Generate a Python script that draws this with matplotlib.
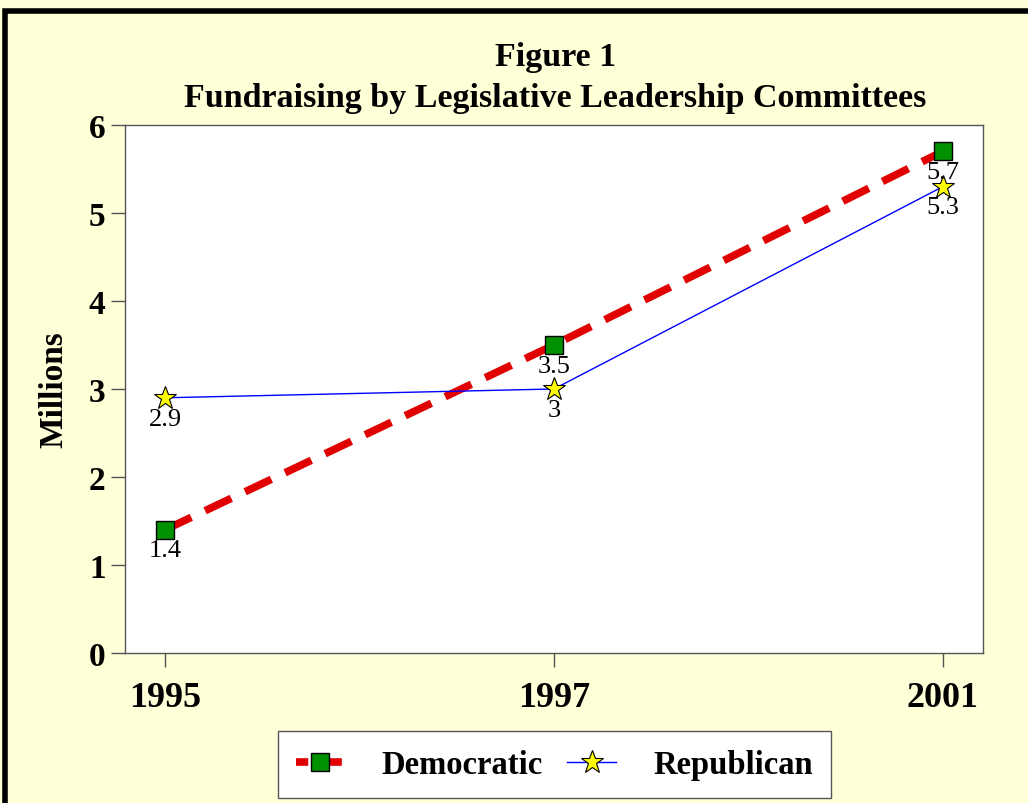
import matplotlib.pyplot as plt
from matplotlib.patches import Rectangle
from matplotlib.lines import Line2D

# data
years = ["1995", "1997", "2001"]
democratic = [1.4, 3.5, 5.7]
republican = [2.9, 3.0, 5.3]
dem_labels = ["1.4", "3.5", "5.7"]
rep_labels = ["2.9", "3", "5.3"]

plt.rcParams['font.family'] = ['Liberation Serif', 'DejaVu Serif']

fig = plt.figure(figsize=(10.28, 8.04), dpi=100)
fig.patch.set_facecolor('#FFFFD8')

# black frame along top and left edge
fig.patches.append(Rectangle((0.005, -0.1), 1.2, 1.085, transform=fig.transFigure,
                             fill=False, edgecolor='black', linewidth=4, zorder=0))

ax = fig.add_axes([0.1216, 0.1866, 0.8346, 0.6567])
ax.set_facecolor('white')

x = list(range(len(years)))
ax.plot(x, democratic, color='#E00000', linewidth=5.5, dashes=(3.8, 2.0),
        marker='s', markersize=13, markerfacecolor='#009000', markeredgecolor='black',
        markeredgewidth=1, zorder=3)
ax.plot(x, republican, color='#0000FF', linewidth=1,
        marker='*', markersize=17, markerfacecolor='#FFFF00', markeredgecolor='black',
        markeredgewidth=0.8, zorder=4)

for xi, v, t in zip(x, democratic, dem_labels):
    ax.annotate(t, (xi, v), xytext=(0, -7), textcoords='offset points',
                ha='center', va='top', fontsize=19, zorder=5)
for xi, v, t in zip(x, republican, rep_labels):
    ax.annotate(t, (xi, v), xytext=(0, -7), textcoords='offset points',
                ha='center', va='top', fontsize=19, zorder=5)

ax.set_xlim(-0.103, 2.103)
ax.set_ylim(0, 6)
ax.set_xticks(x)
ax.set_xticklabels(years, fontsize=26, fontweight='bold')
ax.set_yticks(range(7))
ax.set_yticklabels([str(i) for i in range(7)], fontsize=24, fontweight='bold')
ax.tick_params(axis='both', direction='out', length=10, width=1, color='#555555', pad=4)
ax.tick_params(axis='x', pad=10)
for s in ax.spines.values():
    s.set_color('#555555')
    s.set_linewidth(1)

ax.set_ylabel('Millions', fontsize=24, fontweight='bold', labelpad=14)

fig.text(0.54, 0.928, 'Figure 1', ha='center', va='center', fontsize=24.5, fontweight='bold')
fig.text(0.54, 0.878, 'Fundraising by Legislative Leadership Committees', ha='center',
         va='center', fontsize=24.5, fontweight='bold')

# legend proxies: red dash - square - red dash, like the original
handles = [
    Line2D([], [], color='#E00000', linewidth=5.5, dashes=(1.6, 0.6),
           marker='s', markersize=13, markerfacecolor='#009000', markeredgecolor='black',
           markeredgewidth=1),
    Line2D([], [], color='#0000FF', linewidth=1,
           marker='*', markersize=17, markerfacecolor='#FFFF00', markeredgecolor='black',
           markeredgewidth=0.8),
]
leg = fig.legend(handles, ['Democratic', 'Republican'], loc='center',
                 bbox_to_anchor=(0.539, 0.0475), ncol=2,
                 prop={'weight': 'bold', 'size': 23.5}, frameon=True, fancybox=False,
                 handlelength=1.5, columnspacing=0.75, borderpad=0.55, handletextpad=1.13)
leg.get_frame().set_edgecolor('#555555')
leg.get_frame().set_facecolor('white')
leg.get_frame().set_alpha(1)

fig.savefig('out.png', dpi=100, facecolor=fig.get_facecolor())
